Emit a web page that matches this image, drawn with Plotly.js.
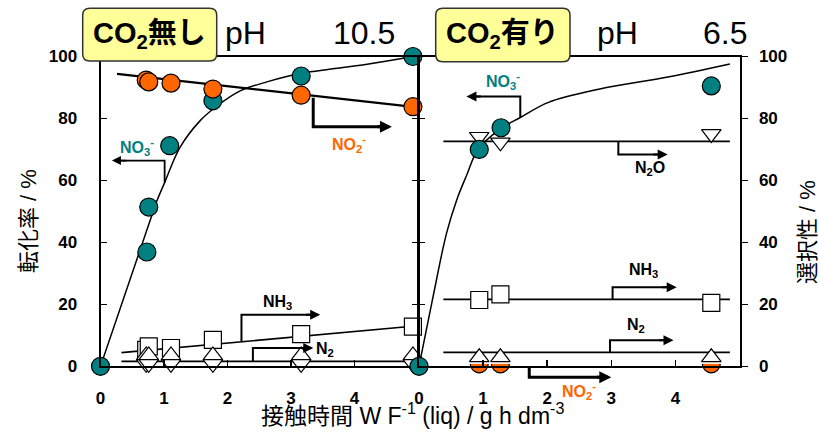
<!DOCTYPE html>
<html><head><meta charset="utf-8">
<script src="https://cdn.plot.ly/plotly-3.0.1.min.js"></script>
<style>html,body{margin:0;padding:0;background:#fff;}#chart{width:819px;height:436px;}</style>
</head><body><div id="chart"></div>
<script>
// ---------- DATA ----------
const xTicks = [0, 1, 2, 3, 4];
const yTicks = [0, 20, 40, 60, 80, 100];

// Left panel: CO2無し pH 10.5
const leftConvX    = [0, 0.73, 0.76, 1.09, 1.77, 3.16, 4.92];
const leftNO3Conv  = [0, 36.9, 51.4, 71.2, 85.7, 93.7, 100];
const leftSelX     = [0.72, 0.76, 1.11, 1.77, 3.16, 4.92];
const leftNO2Sel   = [92.4, 91.8, 91.4, 89.5, 87.5, 83.8];
const leftNH3Sel   = [5.3, 6.4, 5.9, 8.5, 10.4, 12.8];
const leftN2Sel    = [3.5, 3.5, 3.5, 3.5, 3.5, 3.5];
const leftN2OSel   = [0.8, 0.8, 0.8, 0.8, 0.8, 0.8];
const leftFitX     = [0, 0.82, 0.89, 1.01, 1.25, 1.57, 1.84, 2.20, 2.62, 3.14, 4.20, 4.92];
const leftFitY     = [0, 49.4, 53.5, 59.3, 70.6, 79.3, 84.1, 88.9, 91.8, 94.5, 97.5, 100];
const leftNO2LineX = [0.26, 5.0];
const leftNO2LineY = [94.4, 83.6];
const leftNH3LineX = [0.33, 5.0];
const leftNH3LineY = [4.4, 13.1];
const leftN2LineX  = [0.33, 5.0];
const leftN2LineY  = [1.6, 1.6];

// Right panel: CO2有り pH 6.5
const rightConvX    = [0, 0.94, 1.28, 4.56];
const rightNO3Conv  = [0, 70.0, 77.0, 90.5];
const rightSelX     = [0.94, 1.27, 4.56];
const rightN2OSel   = [74.1, 72.3, 75.0];
const rightNH3Sel   = [21.4, 23.2, 20.5];
const rightN2Sel    = [2.9, 2.9, 2.9];
const rightNO2Sel   = [0.8, 0.8, 0.8];
const rightFitX     = [0, 0.21, 0.43, 0.59, 0.74, 0.92, 1.26, 1.58, 2.02, 2.82, 3.86, 4.85];
const rightFitY     = [0, 21.5, 43.0, 53.8, 61.5, 70.0, 76.5, 80.3, 85.2, 89.5, 93.3, 97.6];
const rightLineX    = [0.38, 4.85];
const rightN2OLineY = [72.6, 72.6];
const rightNH3LineY = [21.6, 21.6];
const rightN2LineY  = [4.5, 4.5];

// ---------- GEOMETRY ----------
const W = 819, H = 436;
const PL = {x0: 100.5, x1: 418}, PR = {x0: 419, x1: 739.5};
const YT = 56.5, YB = 366.3;
const XR = [0, 5], YR = [0, 100];
const pxPerY = (YB - YT) / (YR[1] - YR[0]);
function toPx(panel, x, y) {
  const p = panel === 'L' ? PL : PR;
  return [p.x0 + (x - XR[0]) / (XR[1] - XR[0]) * (p.x1 - p.x0), YB - (y - YR[0]) * pxPerY];
}
const pp = (px, py) => [px / W, 1 - py / H];

const teal = '#008080', orange = '#FF6600';
const FF = 'Liberation Sans, Arial, Noto Sans CJK JP, sans-serif';

function sc(xa, ya, x, y, extra) {
  return Object.assign({type: 'scatter', xaxis: xa, yaxis: ya, x: x, y: y,
    cliponaxis: false, hoverinfo: 'skip', showlegend: false}, extra);
}
const lineStyle = (w, shape) => ({mode: 'lines', line: {color: '#000', width: w, shape: shape || 'linear', smoothing: 1}});
const mk = (symbol, size, color, lw) => ({mode: 'markers', marker: {symbol: symbol, size: size, color: color, line: {color: '#000', width: lw}}});

const traces = [
  sc('x', 'y', leftFitX, leftFitY, lineStyle(1.5, 'spline')),
  sc('x', 'y', leftNO2LineX, leftNO2LineY, lineStyle(2.2)),
  sc('x', 'y', leftNH3LineX, leftNH3LineY, lineStyle(1.6)),
  sc('x', 'y', leftN2LineX, leftN2LineY, lineStyle(1.6)),
  sc('x', 'y', leftSelX, leftNH3Sel, mk('square', 17, '#fff', 1.2)),
  sc('x', 'y', leftSelX, leftN2Sel, mk('triangle-up', 17, '#fff', 1.2)),
  sc('x', 'y', leftSelX, leftN2OSel, mk('triangle-down', 17, '#fff', 1.2)),
  sc('x', 'y', leftConvX, leftNO3Conv, mk('circle', 18, teal, 1.2)),
  sc('x', 'y', leftSelX, leftNO2Sel, mk('circle', 18, orange, 1.2)),
  sc('x2', 'y2', rightFitX, rightFitY, lineStyle(1.5, 'spline')),
  sc('x2', 'y2', rightLineX, rightN2OLineY, lineStyle(1.8)),
  sc('x2', 'y2', rightLineX, rightNH3LineY, lineStyle(1.8)),
  sc('x2', 'y2', rightLineX, rightN2LineY, lineStyle(1.8)),
  sc('x2', 'y2', rightSelX, rightNH3Sel, mk('square', 17, '#fff', 1.2)),
  sc('x2', 'y2', rightSelX, rightN2OSel, mk('triangle-down', 17, '#fff', 1.2)),
  sc('x2', 'y2', rightConvX, rightNO3Conv, mk('circle', 18, teal, 1.2)),
  sc('x2', 'y2', rightSelX, rightNO2Sel, mk('circle', 18, orange, 1.2)),
  sc('x2', 'y2', rightSelX, rightNO2Sel.map(v => v + 4.2 / pxPerY),
     {mode: 'markers', marker: {symbol: 'line-ew', size: 19, color: '#fff', line: {color: '#fff', width: 8.5}}}),
  sc('x2', 'y2', rightSelX, rightN2Sel, mk('triangle-up', 17, '#fff', 1.2)),
  sc('x2', 'y3', [], [], {mode: 'markers'})
];

const tf = {family: FF, size: 17, color: '#000', weight: 700};
const baseAx = {range: XR, tickvals: xTicks, ticktext: xTicks.map(String), ticks: 'inside', ticklen: 6, tickwidth: 1.5,
  tickcolor: '#000', showline: true, linewidth: 2, linecolor: '#000', showgrid: false, zeroline: false, tickfont: tf};
const yDom = [1 - YB / H, 1 - YT / H];

const layout = {
  width: W, height: H, margin: {l: 0, r: 0, t: 0, b: 0},
  paper_bgcolor: '#fff', plot_bgcolor: 'rgba(0,0,0,0)', showlegend: false,
  xaxis: Object.assign({}, baseAx, {domain: [PL.x0 / W, PL.x1 / W], anchor: 'y', mirror: true, ticklabelstandoff: 15}),
  yaxis: Object.assign({}, baseAx, {domain: yDom, range: YR, tickvals: yTicks, ticktext: yTicks.map(String), anchor: 'x', mirror: 'ticks', ticklabelstandoff: 18}),
  xaxis2: Object.assign({}, baseAx, {domain: [PR.x0 / W, PR.x1 / W], anchor: 'y2', mirror: true, ticklabelstandoff: 15}),
  yaxis2: Object.assign({}, baseAx, {domain: yDom, range: YR, tickvals: yTicks, ticktext: yTicks.map(String), anchor: 'x2', side: 'right', ticks: 'outside', mirror: false, ticklabelstandoff: 8}),
  yaxis3: Object.assign({}, baseAx, {range: YR, tickvals: yTicks, overlaying: 'y2', anchor: 'x2', side: 'left', ticks: 'inside', showticklabels: false}),
  shapes: [], annotations: []
};

function roundRect(x0, y0, x1, y1, r) {
  const P = (a, b) => pp(a, b).join(' ');
  return 'M ' + P(x0 + r, y0) + ' L ' + P(x1 - r, y0) + ' Q ' + P(x1, y0) + ' ' + P(x1, y0 + r) +
    ' L ' + P(x1, y1 - r) + ' Q ' + P(x1, y1) + ' ' + P(x1 - r, y1) + ' L ' + P(x0 + r, y1) +
    ' Q ' + P(x0, y1) + ' ' + P(x0, y1 - r) + ' L ' + P(x0, y0 + r) + ' Q ' + P(x0, y0) + ' ' + P(x0 + r, y0) + ' Z';
}
const boxes = [
  {b: [82.7, 8.3, 216.7, 61], text: 'CO<sub>2</sub>無し', ph: [245, 33], val: '10.5', vx: 364},
  {b: [435.7, 8.3, 570, 61.7], text: 'CO<sub>2</sub>有り', ph: [617.5, 33], val: '6.5', vx: 725}
];
boxes.forEach(bx => {
  layout.shapes.push({type: 'path', xref: 'paper', yref: 'paper', layer: 'above', path: roundRect(...bx.b, 7),
    fillcolor: '#FFFF99', line: {color: '#333', width: 1.5}});
  const c = pp((bx.b[0] + bx.b[2]) / 2, 35);
  layout.annotations.push({xref: 'paper', yref: 'paper', x: c[0], y: c[1], text: bx.text, showarrow: false,
    xanchor: 'center', yanchor: 'middle', font: {family: FF, size: 29, color: '#000', weight: 700}});
  const p1 = pp(bx.ph[0], bx.ph[1]);
  layout.annotations.push({xref: 'paper', yref: 'paper', x: p1[0], y: p1[1], text: 'pH', showarrow: false,
    xanchor: 'center', yanchor: 'middle', font: {family: FF, size: 32, color: '#000'}});
  const p2 = pp(bx.vx, bx.ph[1]);
  layout.annotations.push({xref: 'paper', yref: 'paper', x: p2[0], y: p2[1], text: bx.val, showarrow: false,
    xanchor: 'center', yanchor: 'middle', font: {family: FF, size: 32, color: '#000'}});
});

const brackets = [
  {p: 'L', pts: [[1.01, 59.3], [1.01, 66.4], [0.18, 66.4]], w: 1.8},
  {p: 'L', pts: [[3.35, 86.7], [3.35, 77.3], [4.59, 77.3]], w: 3},
  {p: 'L', pts: [[2.22, 8.0], [2.22, 16.6], [3.46, 16.6]], w: 2},
  {p: 'L', pts: [[2.40, 1.6], [2.40, 5.9], [3.35, 5.9]], w: 2},
  {p: 'R', pts: [[1.58, 80.3], [1.58, 87.1], [0.74, 87.1]], w: 2},
  {p: 'R', pts: [[3.11, 72.6], [3.11, 68.4], [3.88, 68.4]], w: 2},
  {p: 'R', pts: [[3.02, 21.6], [3.02, 25.5], [4.02, 25.5]], w: 2},
  {p: 'R', pts: [[2.98, 4.5], [2.98, 8.4], [3.97, 8.4]], w: 2},
  {p: 'R', pts: [[1.72, 0], [1.72, -3.5], [3.00, -3.5]], w: 3}
];
brackets.forEach(br => {
  const px = br.pts.map(q => toPx(br.p, q[0], q[1]));
  const tip = px[2], dir = Math.sign(tip[0] - px[1][0]);
  const end = [tip[0] - dir * 7, tip[1]];
  const path = 'M ' + pp(...px[0]).join(' ') + ' L ' + pp(...px[1]).join(' ') + ' L ' + pp(...end).join(' ');
  layout.shapes.push({type: 'path', xref: 'paper', yref: 'paper', layer: 'above', path: path,
    line: {color: '#000', width: br.w}});
  const t = pp(...tip);
  layout.annotations.push({xref: 'paper', yref: 'paper', x: t[0], y: t[1], ax: -dir * 16, ay: 0, text: '',
    showarrow: true, arrowhead: 2, arrowsize: br.w > 2.5 ? 0.8 : 1, arrowwidth: br.w, arrowcolor: '#000', standoff: 0});
});

const labs = [
  ['L', 0.57, 70.9, 'NO<sub>3</sub><sup>-</sup>', teal],
  ['L', 3.92, 71.9, 'NO<sub>2</sub><sup>-</sup>', orange],
  ['L', 2.79, 20.6, 'NH<sub>3</sub>', '#000'],
  ['L', 3.53, 5.3, 'N<sub>2</sub>', '#000'],
  ['R', 1.31, 92.1, 'NO<sub>3</sub><sup>-</sup>', teal],
  ['R', 3.61, 63.9, 'N<sub>2</sub>O', '#000'],
  ['R', 3.51, 30.8, 'NH<sub>3</sub>', '#000'],
  ['R', 3.38, 13.3, 'N<sub>2</sub>', '#000'],
  ['R', 2.49, -8.1, 'NO<sub>2</sub><sup>-</sup>', orange]
];
labs.forEach(l => {
  const q = pp(...toPx(l[0], l[1], l[2]));
  layout.annotations.push({xref: 'paper', yref: 'paper', x: q[0], y: q[1], text: l[3], showarrow: false,
    xanchor: 'center', yanchor: 'middle', font: {family: FF, size: 16, color: l[4], weight: 700}});
});

const tx = pp(412, 414), tyl = pp(28, 221), tyr = pp(807, 232);
layout.annotations.push({xref: 'paper', yref: 'paper', x: tx[0], y: tx[1], showarrow: false, xanchor: 'center', yanchor: 'middle',
  text: '接触時間 W F<sup>-1</sup> (liq) / g h dm<sup>-3</sup>', font: {family: FF, size: 23, color: '#000'}});
layout.annotations.push({xref: 'paper', yref: 'paper', x: tyl[0], y: tyl[1], showarrow: false, xanchor: 'center', yanchor: 'middle',
  textangle: -90, text: '転化率 / %', font: {family: FF, size: 22, color: '#000'}});
layout.annotations.push({xref: 'paper', yref: 'paper', x: tyr[0], y: tyr[1], showarrow: false, xanchor: 'center', yanchor: 'middle',
  textangle: -90, text: '選択性 / %', font: {family: FF, size: 22, color: '#000'}});

Plotly.newPlot('chart', traces, layout, {staticPlot: true, displayModeBar: false});
</script></body></html>
